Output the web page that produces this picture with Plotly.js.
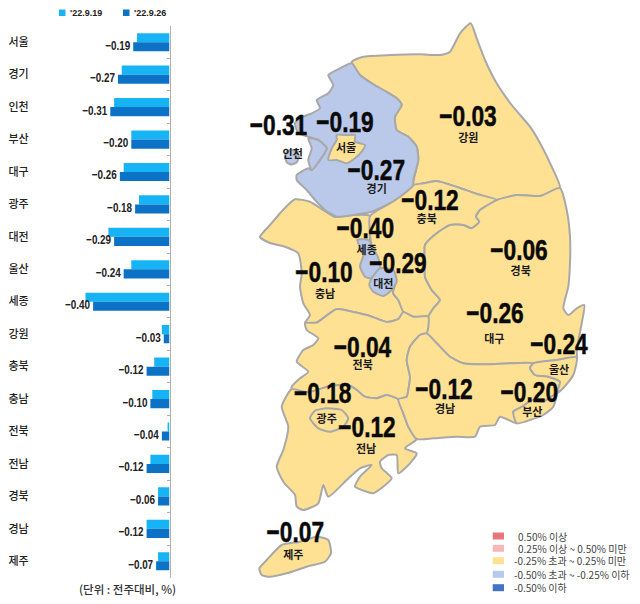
<!DOCTYPE html>
<html>
<head>
<meta charset="utf-8">
<script src="https://cdn.plot.ly/plotly-3.0.1.min.js"></script>
<style>html,body{margin:0;padding:0;background:#fff}#c{width:640px;height:604px}</style>
</head>
<body>
<div id="c"></div>
<script>
// ---- bar data ----
const categories = ['서울','경기','인천','부산','대구','광주','대전','울산','세종','강원','충북','충남','전북','전남','경북','경남','제주'];
const week0919 = [-0.17,-0.25,-0.29,-0.20,-0.24,-0.16,-0.32,-0.20,-0.44,-0.04,-0.08,-0.09,-0.01,-0.10,-0.06,-0.12,-0.06];
const week0926 = [-0.19,-0.27,-0.31,-0.20,-0.26,-0.18,-0.29,-0.24,-0.40,-0.03,-0.12,-0.10,-0.04,-0.12,-0.06,-0.12,-0.07];
const seriesNames = ["'22.9.19","'22.9.26"];

// ---- map outlines (map space) ----
const gangwon = [[351.7,62],[363,56.7],[390,55],[420,54.3],[440,55],[450,51.7],[460,33.3],[470.7,23.3],[476.7,38.3],[485,60],[496.7,83.3],[511.7,105],[530,126.7],[540,143],[551.7,166.7],[560,188],[540,196],[517,195],[497,200],[477,194],[457,187],[436.7,181],[423.3,183.3],[413.3,185],[418.3,160],[416.7,146.7],[408.3,136.7],[396.7,130],[395,116.7],[401.7,105],[396.7,98.3],[383.3,90],[371.7,83.3],[360,75],[351.7,62]];
const chungbuk = [[370,216],[386.7,205],[400,196.7],[413.3,185],[423.3,183.3],[436.7,181],[457,187],[477,194],[497,200],[480,210],[476,216.7],[479.3,221.7],[471.7,228.3],[463.3,225],[450,225],[436.7,233.3],[425,245],[425,263],[425,276.7],[431.7,290],[440,300],[433.3,308.3],[428.3,316.5],[413.3,316.7],[403.3,312],[398.3,300],[393,293],[396,280],[380,268],[372,248],[370,216]];
const chungnam = [[260,237],[270,225],[283,210],[295,199.3],[310,201.7],[323,210],[335,217],[353,215],[370,216],[370,240],[378,258],[380,268],[396,280],[393,293],[398.3,300],[403.3,312],[398.3,319],[386.7,322],[370,316],[353.3,312],[336.7,309],[316.7,322.5],[305,323],[310,315],[303.3,303.3],[300,286.7],[301.7,273.3],[298.3,253.3],[285,246.7],[270,243],[260,237]];
const gyeongbuk = [[497,200],[517,195],[540,196],[560,188],[566.7,210],[570,236.7],[570,263],[568.3,286.7],[563.3,308.3],[568.3,315],[576.7,308.3],[584.3,305],[581.7,323.3],[576.7,350],[576.7,357.3],[556.7,360],[533.3,363.3],[510,363.3],[486.7,364.3],[463.3,363.3],[450,356.7],[436.7,343.3],[426.7,333.3],[428.3,316.5],[433.3,308.3],[440,300],[431.7,290],[425,276.7],[425,263],[425,245],[436.7,233.3],[450,225],[463.3,225],[471.7,228.3],[479.3,221.7],[476,216.7],[480,210],[497,200]];
const jeonbuk = [[305,323],[316.7,322.5],[336.7,309],[353.3,312],[370,316],[386.7,322],[398.3,319],[403.3,312],[413.3,316.7],[428.3,316.5],[426.7,333.3],[420,335],[410,346.7],[406.7,360],[410,376.7],[408.3,390],[406.7,396.7],[398.3,399.3],[386.7,395],[376.7,398.3],[365,396.7],[356.7,390],[348.3,385],[330,386],[310,392],[303.3,391.7],[291.7,389],[291.7,386.7],[300,378.3],[308.3,371.7],[296.7,361.7],[303.3,350],[313.3,345],[318.3,338.3],[306.7,330],[305,323]];
const jeonnam = [[291.7,389],[303.3,391.7],[310,392],[330,386],[348.3,385],[356.7,390],[365,396.7],[376.7,398.3],[386.7,395],[398.3,399.3],[403.3,413.3],[408.3,426.7],[416.7,439],[405,448.3],[416.7,453.3],[410,463.3],[398.3,473.3],[396.7,455],[388.3,455],[380,461.7],[381.7,468.3],[391.7,478.3],[373.3,493.3],[366.7,491.7],[355,486.7],[360,476.7],[371.7,465],[360,468.3],[346.7,480],[328.3,496.7],[323.3,485],[318.3,503.3],[303.3,510],[296.7,506.7],[295,495],[283.3,481.7],[276.7,466.7],[283.3,450],[288.3,426.7],[281.7,406.7],[291.7,389]];
const gyeongnam = [[426.7,333.3],[436.7,343.3],[450,356.7],[463.3,363.3],[486.7,364.3],[510,363.3],[533.3,363.3],[530,368],[535,375],[548.3,376.7],[560,381.7],[556.7,393.3],[543,401.7],[531.7,400],[523.3,406],[513.3,411.7],[516.7,423.3],[500,416.7],[495,425],[480,426.7],[475,436.7],[456.7,436.7],[433.3,438.3],[416.7,439],[408.3,426.7],[403.3,413.3],[398.3,399.3],[406.7,396.7],[408.3,390],[410,376.7],[406.7,360],[410,346.7],[420,335],[426.7,333.3]];
const ulsan = [[533.3,363.3],[556.7,360],[576.7,357.3],[573.3,375],[563.3,388],[556.7,393.3],[560,381.7],[548.3,376.7],[535,375],[530,368],[533.3,363.3]];
const busan = [[556.7,393.3],[553.3,406.7],[543.3,415],[530,420],[516.7,423.3],[513.3,411.7],[523.3,406],[531.7,400],[543,401.7],[556.7,393.3]];
const jeju = [[259.3,568.3],[266.7,560],[281.7,545],[300,541.7],[316.7,536.7],[328.3,540],[331,553.3],[325,561.7],[306.7,566.7],[286.7,573.3],[270,576.7],[261.7,575],[259.3,568.3]];
const seoul = [[336.7,135],[346.7,135],[355,135],[355,141.7],[365,145],[361.7,151.7],[355,158.3],[346.7,163.3],[336.7,160],[328.3,160],[331.7,148.3],[336.7,140],[336.7,135]];
const gwangju = [[310,418.3],[315,410.7],[326.7,408.3],[341.7,410],[348.3,418.3],[343.3,426.7],[330,431.7],[318.3,428.3],[310,418.3]];
const gyeonggi = [[351.7,63.3],[360,75],[371.7,83.3],[383.3,90],[396.7,98.3],[401.7,105],[395,116.7],[396.7,130],[408.3,136.7],[416.7,146.7],[418.3,160],[413.3,180],[413.3,185],[400,196.7],[386.7,205],[371.7,211.7],[353.3,215],[336.7,216.7],[325,210],[315,200],[306.7,190],[296.7,180],[296.7,175],[308.3,168.3],[311.7,170],[320,160],[326.7,148.3],[318.3,140],[308.3,136.7],[298.3,133.3],[295,123],[303,116.7],[311.7,113.3],[320,108.3],[316.7,100],[328.3,93.3],[333.3,85],[328.3,75],[340,68.3],[351.7,63.3]];
const incheonMain = [[308.3,138.3],[318.3,140],[326.7,148.3],[320,160],[311.7,170],[308.3,160],[311.7,148.3],[308.3,138.3]];
const incheonIsland = [[285,157],[287,151.5],[292,150],[297,152],[299,157],[296.5,162.5],[291.5,164.5],[287,162.5],[285,157]];
const sejong = [[357.3,240],[368.3,240],[373.3,248.3],[378.3,258.3],[380,268.3],[371.7,278.3],[365,276.7],[360,266.7],[363.3,255],[357.3,240]];
const daejeon = [[371.7,278.3],[380,268.3],[393.3,270],[396.7,281.7],[391.7,290],[383.3,296],[373.3,291.7],[369.3,285],[371.7,278.3]];

const yellowRegions = [gangwon,chungnam,chungbuk,gyeongbuk,jeonbuk,jeonnam,gyeongnam,ulsan,busan,jeju];
const blueRegions = [gyeonggi,incheonMain,incheonIsland,sejong,daejeon];
const yellowInsets = [seoul,gwangju];

// ---- map labels ----
const mapValues = ['-0.31','-0.19','-0.27','-0.03','-0.12','-0.40','-0.29','-0.10','-0.06','-0.26','-0.24','-0.04','-0.18','-0.12','-0.12','-0.20','-0.07'];
const valueX = [278.5,345,376.3,468,430,365.3,398,324,519,495,559,362.5,322.7,367,444,529.3,295.3];
const valueY = [125,122,170,116,200,228,263,272,250,313,344,347,393,427,389,392,532];
const mapNames = ['인천','서울','경기','강원','충북','세종','대전','충남','경북','대구','울산','전북','광주','전남','경남','부산','제주'];
const nameX = [292.7,346,376.7,468.3,426.7,366.7,383.3,325,520.7,494.3,559,362.7,326.7,366,445,532.3,293.3];
const nameY = [154,147.3,188.3,137.7,219,250,283.3,294,270.7,339,369.3,365,418.3,449,408.3,411.7,555];

// ---- legend text ----
const binLabels = ['0.50% 이상','0.25% 이상 ~ 0.50% 미만','-0.25% 초과 ~ 0.25% 미만','-0.50% 초과 ~ -0.25% 이하','-0.50% 이하'];
const binColors = ['#E9767E','#F6B7BC','#FFE294','#B9C9EA','#4472C4'];
const binTextX = [516,516,512.3,512.3,512.3];
const binY = [536,548.3,560.7,574.3,587.7];

const W=640,H=604, KR='"Noto Sans CJK KR","Noto Sans",sans-serif', NUM='"Liberation Sans",sans-serif';
const YEL='#FFE194', BLU='#BAC9E9', EDGE='#A8A8A8';
const dash = s => s.replace('-','\u2212');
const region = (pts,fill) => ({type:'scatter',mode:'lines',x:pts.map(p=>p[0]),y:pts.map(p=>p[1]),fill:'toself',fillcolor:fill,
  line:{color:EDGE,width:2,shape:'spline',smoothing:0.55},hoverinfo:'skip',showlegend:false,xaxis:'x',yaxis:'y'});

const traces = [];
yellowRegions.forEach(r=>traces.push(region(r,YEL)));
blueRegions.forEach(r=>traces.push(region(r,BLU)));
yellowInsets.forEach(r=>traces.push(region(r,YEL)));

traces.push({type:'scatter',mode:'text',x:valueX,y:valueY.map(v=>v+2.5),text:mapValues.map(dash),textposition:'middle center',cliponaxis:false,
  textfont:{family:NUM,size:30,color:'#0a0a0a',weight:700},hoverinfo:'skip',showlegend:false,xaxis:'x',yaxis:'y'});
traces.push({type:'scatter',mode:'text',x:nameX,y:nameY.map(v=>v+1.5),text:mapNames,textposition:'middle center',cliponaxis:false,
  textfont:{family:KR,size:11,color:'#1a1a1a',weight:700},hoverinfo:'skip',showlegend:false,xaxis:'x',yaxis:'y'});

// bars: one row per category, rows numbered from the top
const rows = categories.map((c,i)=>i);
const axisPx=169.5, pxPerUnit=191;
traces.push({type:'bar',orientation:'h',name:seriesNames[0],y:rows,x:week0919,marker:{color:'#17B4F5'},showlegend:false,xaxis:'x2',yaxis:'y2',hoverinfo:'x+y'});
traces.push({type:'bar',orientation:'h',name:seriesNames[1],y:rows,x:week0926,marker:{color:'#0B72C6'},showlegend:false,xaxis:'x2',yaxis:'y2',hoverinfo:'x+y'});
traces.push({type:'scatter',mode:'text',x:week0926.map(v=>v-3/pxPerUnit),y:rows.map(i=>i+0.13),text:week0926.map(v=>dash(v.toFixed(2))),textposition:'middle left',cliponaxis:false,
  textfont:{family:NUM,size:13,color:'#222',weight:700},hoverinfo:'skip',showlegend:false,xaxis:'x2',yaxis:'y2'});
traces.push({type:'scatter',mode:'text',x:categories.map(()=>-151/pxPerUnit),y:rows.map(i=>i+0.03),text:categories,textposition:'middle center',cliponaxis:false,
  textfont:{family:KR,size:11,color:'#222',weight:500},hoverinfo:'skip',showlegend:false,xaxis:'x2',yaxis:'y2'});

const shapes=[], annotations=[];
binLabels.forEach((t,i)=>{
  shapes.push({type:'rect',xref:'x',yref:'y',x0:492.7,x1:504,y0:binY[i]-3.5,y1:binY[i]+3.5,fillcolor:binColors[i],line:{width:0}});
  annotations.push({xref:'x',yref:'y',x:binTextX[i],y:binY[i],text:t,showarrow:false,xanchor:'left',yanchor:'middle',font:{family:KR,size:10,color:'#444'}});
});
[[59,seriesNames[0],'#17B4F5',68],[123,seriesNames[1],'#0B72C6',132]].forEach(a=>{
  shapes.push({type:'rect',xref:'x',yref:'y',x0:a[0],x1:a[0]+6.5,y0:9.5,y1:16,fillcolor:a[2],line:{width:0}});
  annotations.push({xref:'x',yref:'y',x:a[3],y:12.7,text:a[1],showarrow:false,xanchor:'left',yanchor:'middle',font:{family:'"Liberation Sans",sans-serif',size:9,color:'#222',weight:700}});
});
annotations.push({xref:'x',yref:'y',x:127,y:589,text:'(단위 : 전주대비, %)',showarrow:false,xanchor:'center',yanchor:'middle',font:{family:KR,size:11.5,color:'#333',weight:500}});

const layout={width:W,height:H,margin:{l:0,r:0,t:0,b:0},paper_bgcolor:'#fff',plot_bgcolor:'rgba(0,0,0,0)',showlegend:false,
  font:{family:KR},barmode:'group',bargap:0.44,bargroupgap:0,
  xaxis:{domain:[0,1],range:[0,W],visible:false,fixedrange:true},
  yaxis:{domain:[0,1],range:[H,0],visible:false,fixedrange:true},
  xaxis2:{domain:[0,axisPx/W],range:[-axisPx/pxPerUnit,0],visible:false,anchor:'y2',fixedrange:true},
  yaxis2:{domain:[1-577.5/H,1-26/H],range:[16.5,-0.5],side:'right',anchor:'x2',showline:true,linecolor:'#B0B0B0',linewidth:1,
    tickmode:'linear',tick0:-0.5,dtick:1,ticks:'inside',ticklen:3,tickcolor:'#B0B0B0',showticklabels:false,showgrid:false,zeroline:false,fixedrange:true},
  shapes,annotations};

// The reference's numerals are a condensed heavy face; none is installed, so narrow and thicken the real text nodes.
function condense(gd){
  gd.querySelectorAll('.textpoint text').forEach(t=>{
    if(!/^\u22120\.\d\d$/.test(t.textContent)) return;
    const big=parseFloat(t.style.fontSize)>20;
    t.setAttribute('textLength',big?57.5:25);
    t.setAttribute('lengthAdjust','spacingAndGlyphs');
    if(big){t.style.stroke='#0a0a0a';t.style.strokeWidth='0.5px';}
  });
}
Plotly.newPlot('c',traces,layout,{staticPlot:true,displayModeBar:false}).then(gd=>{condense(gd);gd.on('plotly_afterplot',()=>condense(gd));});
</script>
</body>
</html>
